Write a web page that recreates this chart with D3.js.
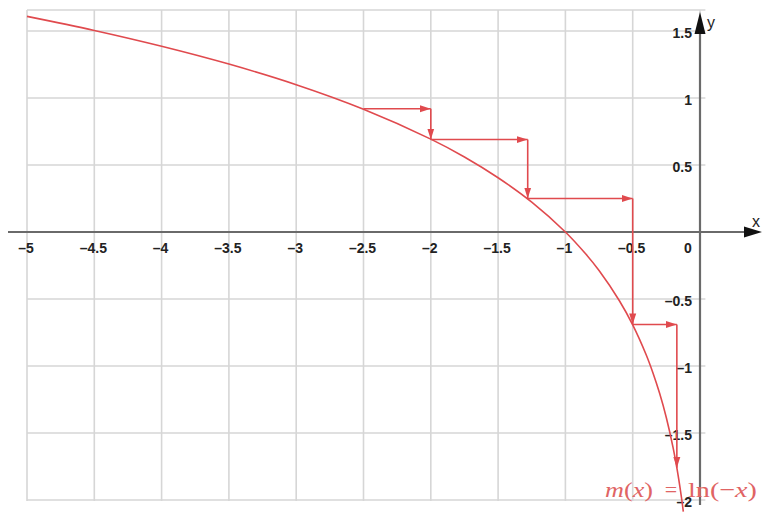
<!DOCTYPE html>
<html lang="en">
<head>
  <meta charset="utf-8" />
  <title>m(x) = ln(-x)</title>
  <script type="text/javascript" src="https://cdn.jsdelivr.net/npm/d3@7"></script>
  <style>
    body { margin: 0; background: white; }
    .tick-label { font-family: "Liberation Sans", Arial, sans-serif; font-size: 14px; font-weight: bold; fill: #222; }
    .fn-label { font-family: "Liberation Serif", "Times New Roman", serif; font-size: 22px; fill: #e06464; }
  </style>
</head>
<body>

<script type="text/javascript">

// tick values on both axes
var xTicks = [-5, -4.5, -4, -3.5, -3, -2.5, -2, -1.5, -1, -0.5, 0];
var yTicks = [1.5, 1, 0.5, -0.5, -1, -1.5, -2];
var xTickLabels = ["\u20135", "\u20134.5", "\u20134", "\u20133.5", "\u20133", "\u20132.5", "\u20132", "\u20131.5", "\u20131", "\u20130.5", "0"];
var yTickLabels = ["1.5", "1", "0.5", "\u20130.5", "\u20131", "\u20131.5", "\u20132"];

// curve m(x) = ln(-x)
var curveX = [-5, -4.5, -4, -3.5, -3, -2.5, -2, -1.75, -1.5, -1.25, -1, -0.85, -0.75, -0.6, -0.5, -0.4, -0.35, -0.3, -0.25, -0.2, -0.17, -0.15, -0.135, -0.124];
var curveY = [1.609, 1.504, 1.386, 1.253, 1.099, 0.916, 0.693, 0.560, 0.405, 0.223, 0, -0.163, -0.288, -0.511, -0.693, -0.916, -1.050, -1.204, -1.386, -1.609, -1.772, -1.897, -2.0, -2.087];

// staircase corners (each segment ends with an arrow)
var stepX = [-2.5, -2, -2, -1.28, -1.28, -0.5, -0.5, -0.172, -0.172];
var stepY = [0.92, 0.92, 0.69, 0.69, 0.25, 0.25, -0.69, -0.69, -1.76];

var w = 762;
var h = 512;
var red = "#e04a4e";

var xScale = d3.scaleLinear()
               .domain([-5, 0])
               .range([27, 700]);
var yScale = d3.scaleLinear()
               .domain([-2, 1.5])
               .range([500, 31]);
var yTop = 1.657;
var xRight = 0.04;

var svg = d3.select("body")
            .append("svg")
            .attr("width", w)
            .attr("height", h);

var defs = svg.append("defs");
defs.append("marker")
    .attr("id", "redArrow")
    .attr("markerUnits", "userSpaceOnUse")
    .attr("markerWidth", 12)
    .attr("markerHeight", 8)
    .attr("refX", 11)
    .attr("refY", 4)
    .attr("orient", "auto")
  .append("path")
    .attr("d", "M0,0.5 L11,4 L0,7.5 Z")
    .attr("fill", red);

// grid
var grid = svg.append("g")
              .attr("stroke", "#d6d6d6")
              .attr("stroke-width", 1.6);
grid.selectAll("line.v")
    .data(xTicks)
    .enter()
    .append("line")
    .attr("class", "v")
    .attr("x1", function(d) { return xScale(d); })
    .attr("x2", function(d) { return xScale(d); })
    .attr("y1", yScale(yTop))
    .attr("y2", yScale(-2) + 1);
grid.selectAll("line.h")
    .data(yTicks.concat([yTop]))
    .enter()
    .append("line")
    .attr("class", "h")
    .attr("x1", xScale(-5))
    .attr("x2", xScale(xRight))
    .attr("y1", function(d) { return yScale(d); })
    .attr("y2", function(d) { return yScale(d); });

// axes
var axisColor = "#6a6a6a";
svg.append("line")
   .attr("x1", 8)
   .attr("x2", 748)
   .attr("y1", yScale(0))
   .attr("y2", yScale(0))
   .attr("stroke", axisColor)
   .attr("stroke-width", 2.2);
svg.append("path")
   .attr("d", "M762," + yScale(0) + " L744," + (yScale(0) - 5.5) + " L744," + (yScale(0) + 5.5) + " Z")
   .attr("fill", "#111");
svg.append("line")
   .attr("x1", xScale(0))
   .attr("x2", xScale(0))
   .attr("y1", 505)
   .attr("y2", 30)
   .attr("stroke", axisColor)
   .attr("stroke-width", 2.2);
svg.append("path")
   .attr("d", "M" + xScale(0) + ",12 L" + (xScale(0) - 5.5) + ",34 L" + (xScale(0) + 5.5) + ",34 Z")
   .attr("fill", "#111");

svg.append("text")
   .attr("x", 752)
   .attr("y", 227)
   .attr("font-family", "Liberation Sans, Arial, sans-serif")
   .attr("font-size", 16)
   .attr("fill", "#222")
   .text("x");
svg.append("text")
   .attr("x", 707)
   .attr("y", 28)
   .attr("font-family", "Liberation Sans, Arial, sans-serif")
   .attr("font-size", 16)
   .attr("fill", "#222")
   .text("y");

// tick labels
svg.selectAll("text.xl")
   .data(xTicks)
   .enter()
   .append("text")
   .attr("class", "tick-label xl")
   .attr("x", function(d) { return d === 0 ? xScale(d) - 12 : xScale(d) - 1; })
   .attr("y", yScale(0) + 21)
   .attr("text-anchor", "middle")
   .text(function(d, i) { return xTickLabels[i]; });
svg.selectAll("text.yl")
   .data(yTicks)
   .enter()
   .append("text")
   .attr("class", "tick-label yl")
   .attr("x", xScale(0) - 8)
   .attr("y", function(d) { return yScale(d) + 7; })
   .attr("text-anchor", "end")
   .text(function(d, i) { return yTickLabels[i]; });

// function curve
var curvePts = curveX.map(function(x, i) { return [x, curveY[i]]; });
var line = d3.line()
             .x(function(d) { return xScale(d[0]); })
             .y(function(d) { return yScale(d[1]); })
             .curve(d3.curveCatmullRom.alpha(0.5));
svg.append("path")
   .datum(curvePts)
   .attr("d", line)
   .attr("fill", "none")
   .attr("stroke", red)
   .attr("stroke-width", 1.6);

// staircase with arrows
var segs = [];
for (var i = 0; i < stepX.length - 1; i++) {
  segs.push({x1: stepX[i], y1: stepY[i], x2: stepX[i + 1], y2: stepY[i + 1]});
}
svg.selectAll("line.step")
   .data(segs)
   .enter()
   .append("line")
   .attr("class", "step")
   .attr("x1", function(d) { return xScale(d.x1); })
   .attr("y1", function(d) { return yScale(d.y1); })
   .attr("x2", function(d) { return xScale(d.x2); })
   .attr("y2", function(d) { return yScale(d.y2); })
   .attr("stroke", red)
   .attr("stroke-width", 1.6)
   .attr("marker-end", "url(#redArrow)");

// function label, three pieces stretched to the reference widths
var lhs = svg.append("text")
             .attr("class", "fn-label")
             .attr("x", 605)
             .attr("y", 497)
             .attr("textLength", 48)
             .attr("lengthAdjust", "spacingAndGlyphs");
lhs.append("tspan").attr("font-style", "italic").text("m");
lhs.append("tspan").text("(");
lhs.append("tspan").attr("font-style", "italic").text("x");
lhs.append("tspan").text(")");
svg.append("text")
   .attr("class", "fn-label")
   .attr("x", 671)
   .attr("y", 497)
   .attr("text-anchor", "middle")
   .text("=");
var rhs = svg.append("text")
             .attr("class", "fn-label")
             .attr("x", 688)
             .attr("y", 497)
             .attr("textLength", 69)
             .attr("lengthAdjust", "spacingAndGlyphs");
rhs.append("tspan").text("ln(\u2212");
rhs.append("tspan").attr("font-style", "italic").text("x");
rhs.append("tspan").text(")");

</script>

</body>
</html>
